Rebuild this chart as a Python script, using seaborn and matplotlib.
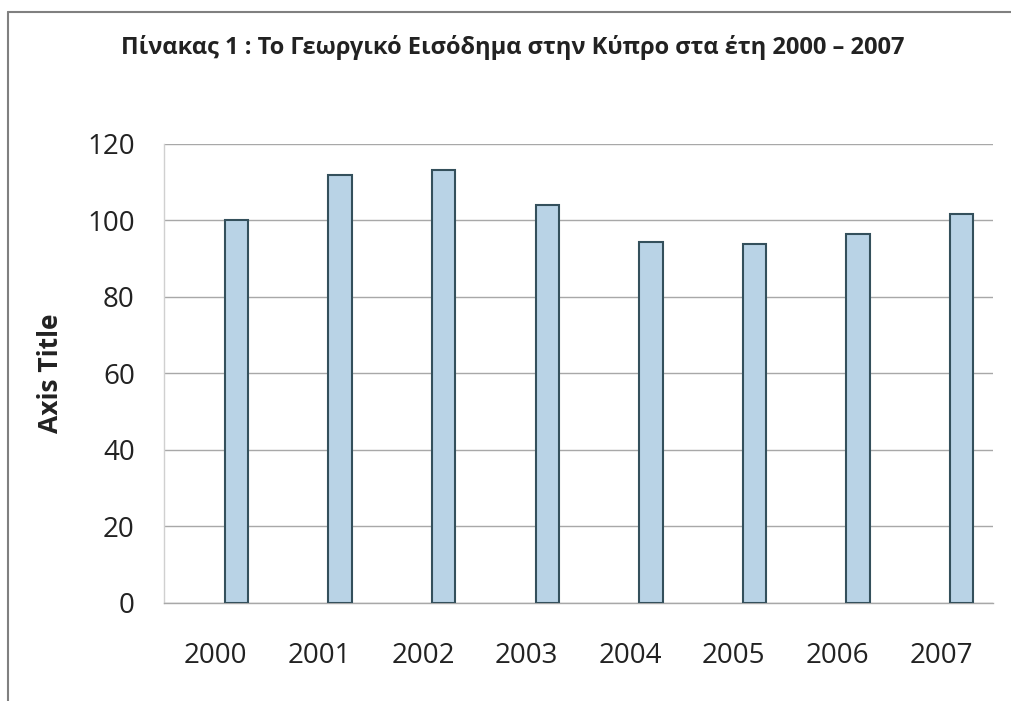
import matplotlib
matplotlib.use("Agg")
import matplotlib.pyplot as plt
from matplotlib.lines import Line2D
import seaborn as sns
import pandas as pd

# data
years = ["2000", "2001", "2002", "2003", "2004", "2005", "2006", "2007"]
income_index = [100.0, 111.9, 113.1, 104.0, 94.3, 93.9, 96.4, 101.6]
y_ticks = [0, 20, 40, 60, 80, 100, 120]

title_text = "Πίνακας 1 : Το Γεωργικό Εισόδημα στην Κύπρο στα έτη 2000 – 2007"
y_label = "Axis Title"

df = pd.DataFrame({"Year": years, "Value": income_index})

sns.set_theme(style="white")
plt.rcParams['font.family'] = ['Open Sans', 'DejaVu Sans']

fig = plt.figure(figsize=(10.12, 7.01), dpi=100)
ax = fig.add_axes([0.162, 0.140, 0.819, 0.655])

sns.barplot(data=df, x="Year", y="Value", color="#b9d3e6", width=0.225,
            edgecolor="#34505c", linewidth=1.5, saturation=1, ax=ax, zorder=3)

# Excel-style offset: bars sit to the right of the category centre
for patch in ax.patches:
    patch.set_x(patch.get_x() + 0.2)

ax.set_ylim(0, 120)
ax.set_xlim(-0.5, len(years) - 0.5)
ax.set_yticks(y_ticks)
ax.yaxis.grid(True, color="#a8a8a8", linewidth=1.0, zorder=0)
ax.xaxis.grid(False)

for side in ["top", "right"]:
    ax.spines[side].set_visible(False)
ax.spines["left"].set_color("#d0d0d0")
ax.spines["left"].set_linewidth(1.0)
ax.spines["bottom"].set_color("#a8a8a8")
ax.spines["bottom"].set_linewidth(1.0)

ax.tick_params(axis="both", length=0, labelsize=20, colors="#222222")
ax.tick_params(axis="x", pad=28)
ax.tick_params(axis="y", pad=21)
ax.set_xlabel("")
ax.set_ylabel(y_label, fontsize=19, fontweight="bold", color="#222222", labelpad=17)

fig.text(0.507, 0.932, title_text, ha="center", va="center",
         fontsize=17, fontweight="bold", color="#222222")

# outer frame (top and left edges as in the scan)
fig.add_artist(Line2D([8 / 1012, 8 / 1012], [0.0, 1 - 12 / 701],
                      color="#808080", linewidth=1.5, transform=fig.transFigure))
fig.add_artist(Line2D([8 / 1012, 1.0], [1 - 12 / 701, 1 - 12 / 701],
                      color="#808080", linewidth=1.5, transform=fig.transFigure))

fig.savefig("out.png", dpi=100, facecolor="white")
